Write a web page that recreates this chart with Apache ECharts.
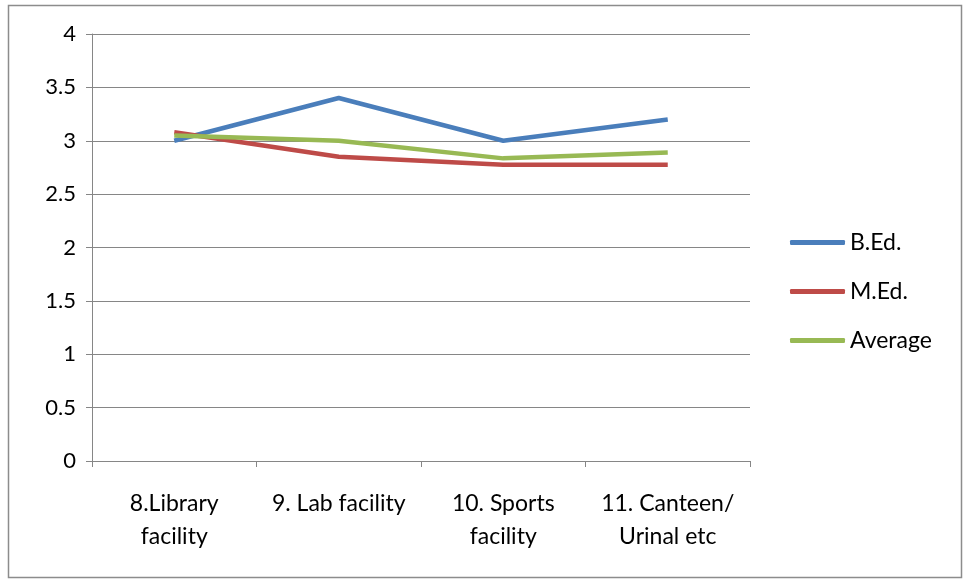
<!DOCTYPE html>
<html>
<head>
<meta charset="utf-8">
<title>chart</title>
<script src="https://cdn.jsdelivr.net/npm/echarts@6/dist/echarts.min.js"></script>
<style>
html,body{margin:0;padding:0;background:#fff;}
#main{width:964px;height:581px;}
</style>
</head>
<body>
<div id="main"></div>
<script>
var categories=["8.Library\nfacility","9. Lab facility","10. Sports\nfacility","11. Canteen/\nUrinal etc"];
var bedValues=[3.0,3.4,3.0,3.2];
var medValues=[3.08,2.85,2.775,2.775];
var avgValues=[3.05,3.0,2.835,2.89];
var yTicks={min:0,max:4,interval:0.5};

var font="Lato, 'Open Sans', sans-serif";
var chart=echarts.init(document.getElementById("main"));
function line(name,data,color){
	return {
		name:name,
		type:"line",
		data:data,
		symbol:"none",
		lineStyle:{color:color,width:4.5},
		itemStyle:{color:color}
	};
}
chart.setOption({
	animation:false,
	graphic:[{
		type:"rect",
		shape:{x:8.5,y:5.5,width:953,height:572},
		style:{fill:"none",stroke:"#8c8c8c",lineWidth:1.5},
		silent:true
	}],
	grid:{left:92,right:214,top:34,bottom:120},
	legend:{
		orient:"vertical",
		left:785,
		top:226,
		itemWidth:55,
		itemHeight:5,
		itemGap:26,
		icon:"roundRect",
		textStyle:{fontFamily:font,fontSize:23,color:"#000"},
		data:["B.Ed.","M.Ed.","Average"]
	},
	xAxis:{
		type:"category",
		data:categories,
		boundaryGap:true,
		axisLine:{lineStyle:{color:"#868686",width:1}},
		axisTick:{show:true,length:6,lineStyle:{color:"#868686"}},
		axisLabel:{fontFamily:font,fontSize:23,color:"#000",margin:26,lineHeight:33,interval:0}
	},
	yAxis:{
		type:"value",
		min:yTicks.min,
		max:yTicks.max,
		interval:yTicks.interval,
		axisLine:{show:true,lineStyle:{color:"#868686",width:1}},
		axisTick:{show:true,length:6,lineStyle:{color:"#868686"}},
		splitLine:{lineStyle:{color:"#868686",width:1}},
		axisLabel:{fontFamily:font,fontSize:22,color:"#000",margin:16}
	},
	series:[
		line("B.Ed.",bedValues,"#4a7ebb"),
		line("M.Ed.",medValues,"#be4b48"),
		line("Average",avgValues,"#98b954")
	]
});
</script>
</body>
</html>
